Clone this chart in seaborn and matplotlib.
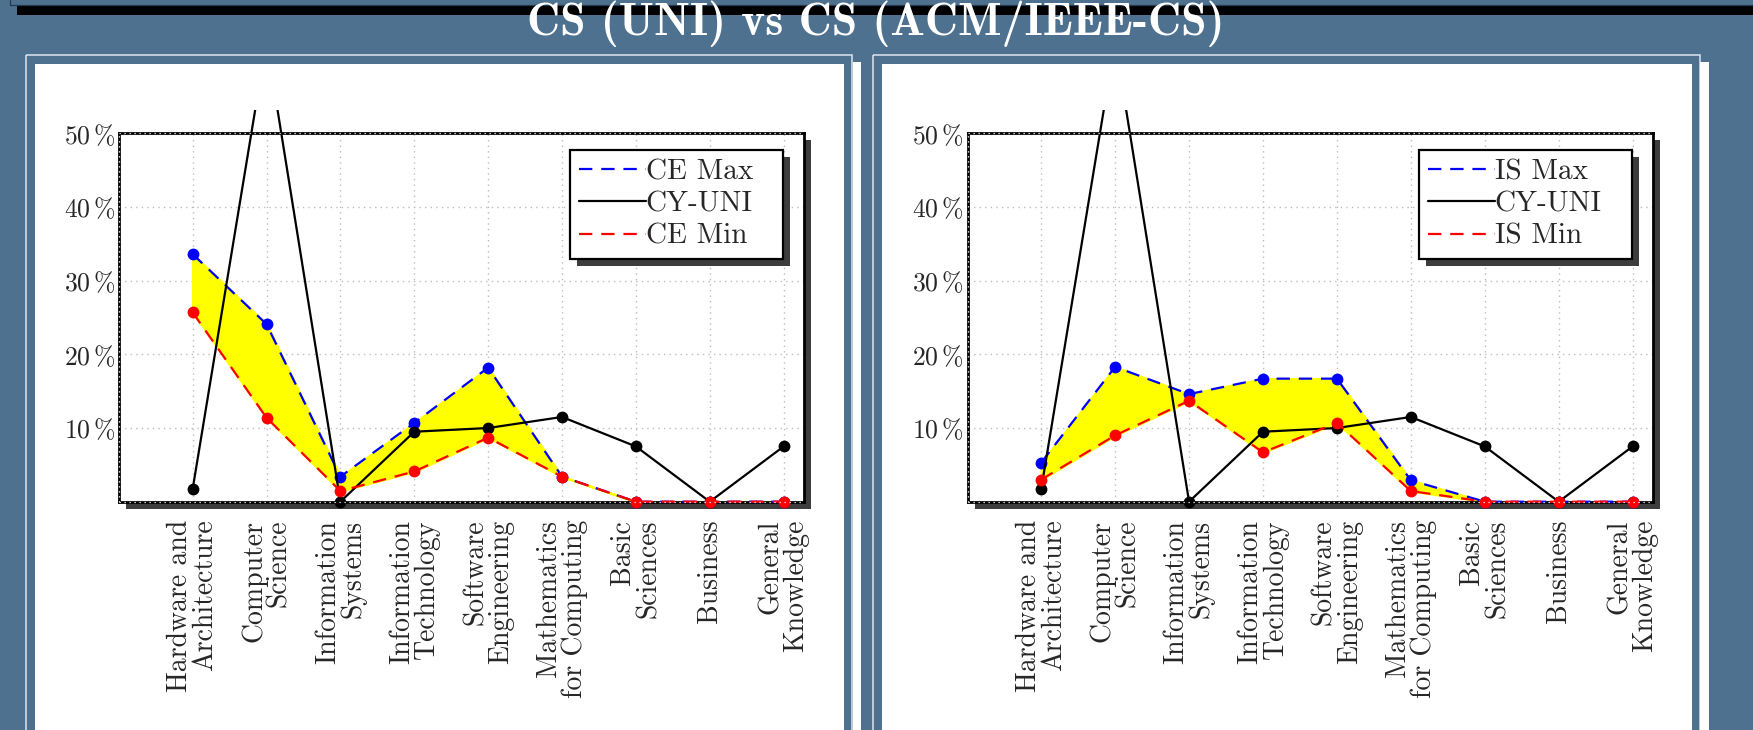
import numpy as np
import pandas as pd
import matplotlib
matplotlib.use("Agg")
import matplotlib.pyplot as plt
from matplotlib.patches import Rectangle
from matplotlib.transforms import ScaledTranslation
import seaborn as sns

# ---------------- data ----------------
categories = ["Hardware and\nArchitecture", "Computer\nScience", "Information\nSystems",
              "Information\nTechnology", "Software\nEngineering", "Mathematics\nfor Computing",
              "Basic\nSciences", "Business", "General\nKnowledge"]
cy_uni = [1.7, 62.5, 0.0, 9.5, 10.0, 11.5, 7.5, 0.0, 7.5]
ce_max = [33.6, 24.1, 3.4, 10.7, 18.2, 3.4, 0.0, 0.0, 0.0]
ce_min = [25.7, 11.4, 1.45, 4.1, 8.7, 3.4, 0.0, 0.0, 0.0]
is_max = [5.3, 18.3, 14.6, 16.7, 16.7, 2.9, 0.0, 0.0, 0.0]
is_min = [3.0, 9.0, 13.7, 6.7, 10.7, 1.45, 0.0, 0.0, 0.0]
ytick_values = [10, 20, 30, 40, 50]
ytick_labels = [r"$10\,\%$", r"$20\,\%$", r"$30\,\%$", r"$40\,\%$", r"$50\,\%$"]
title_text = "CS (UNI) vs CS (ACM/IEEE-CS)"
panels = [("CE", ce_max, ce_min), ("IS", is_max, is_min)]

# ---------------- style ----------------
sns.set_style("white")
plt.rcParams["font.family"] = ["cmr10", "DejaVu Serif"]
plt.rcParams["mathtext.fontset"] = "cm"
plt.rcParams["axes.unicode_minus"] = False
plt.rcParams["axes.formatter.use_mathtext"] = True

W, H = 1753, 730
BG = "#4e7190"
fig = plt.figure(figsize=(W / 100, H / 100), dpi=100, facecolor=BG)

# background / decoration layer in pixel coordinates
bg = fig.add_axes([0, 0, 1, 1], zorder=-10)
bg.set_xlim(0, W)
bg.set_ylim(H, 0)
bg.axis("off")
bg.patch.set_alpha(0)
bg.add_patch(Rectangle((17, 6), W - 17, 8.5, color="black", lw=0))
bg.plot([10, 10, W], [0, 5, 5], color="#243a50", lw=0.9)

panel_geo = [  # outer x0, outer x1, inner x0, inner x1, strip x0, strip x1
    (26, 852.5, 35, 844, 853, 861),
    (873.5, 1700, 882.5, 1692, 1700.5, 1709),
]
for ox0, ox1, ix0, ix1, sx0, sx1 in panel_geo:
    bg.add_patch(Rectangle((ox0, 55), ox1 - ox0, 700, fill=False, edgecolor="#dde5ee", lw=1.1))
    bg.add_patch(Rectangle((sx0, 62), sx1 - sx0, 700, color="white", lw=0))
    bg.add_patch(Rectangle((ix0, 64), ix1 - ix0, 700, color="white", lw=0))

fig.text(876, H - 35, title_text, transform=None, color="white", fontsize=33,
         family="cmb10", ha="center", va="baseline")

axes_px = [(119.5, 133.3, 803.6, 501.7), (968, 133.3, 1652.6, 501.7)]
x = np.arange(len(categories))

for (l, t, r, b), (name, vmax, vmin) in zip(axes_px, panels):
    # axes shadow
    bg.add_patch(Rectangle((l + 7, t + 7), r - l, b - t, color="#3d3d3d", lw=0))
    ax = fig.add_axes([l / W, 1 - b / H, (r - l) / W, (b - t) / H])
    ax.set_facecolor("white")
    clip = Rectangle((-0.1, -0.2), 1.2, 1.263, transform=ax.transAxes, visible=False)
    ax.add_patch(clip)

    df = pd.DataFrame({"x": x, "max": vmax, "min": vmin, "uni": cy_uni})
    ax.fill_between(df["x"], df["min"], df["max"], facecolor="#ffff00",
                    edgecolor="#ffff00", lw=1.6, zorder=2)

    specs = [("max", f"{name} Max", "#0000ff", True),
             ("uni", "CY-UNI", "black", False),
             ("min", f"{name} Min", "#ff0000", True)]
    for col, lab, colr, dashed in specs:
        n0 = len(ax.lines)
        sns.lineplot(data=df, x="x", y=col, ax=ax, color=colr, lw=1.6, marker="o",
                     markersize=8.5, markeredgewidth=0, label=lab, zorder=3, sort=False)
        ln = ax.lines[n0]
        if dashed:
            ln.set_dashes([6, 4])
        ln.set_clip_path(clip)

    ax.set_xlim(-0.99, 8.27)
    ax.set_ylim(0, 50)
    ax.set_xlabel("")
    ax.set_ylabel("")
    ax.set_xticks(x)
    ax.set_xticklabels(categories, rotation=90, ha="center", va="top",
                       multialignment="right", fontsize=20, linespacing=0.95)
    ax.set_yticks(ytick_values)
    ax.set_yticklabels(ytick_labels, fontsize=18.5)
    ax.tick_params(axis="x", length=0, pad=13)
    ax.tick_params(axis="y", length=0, pad=3)
    ax.grid(True, ls=(0, (1, 3)), color="#bdbdbd", lw=1.0)
    ax.set_axisbelow(True)
    for s in ax.spines.values():
        s.set_color("black")
        s.set_linewidth(2.0)
        s.set_visible(True)
    for xs, ys in [([0, 1], [1, 1]), ([0, 0], [0, 1]), ([0, 1], [0, 0])]:
        ax.plot(xs, ys, transform=ax.transAxes, color="white", ls=(0, (1, 3)),
                lw=0.9, clip_on=False, zorder=4)

    leg = ax.legend(loc="upper left", bbox_to_anchor=(0.6585, 0.9443, 0.3109, 0.01),
                    mode="expand", borderaxespad=0,
                    fontsize=21, frameon=True, fancybox=False, handlelength=2.3,
                    handletextpad=0.0, labelspacing=0.2, borderpad=0.3,
                    edgecolor="black", framealpha=1)
    leg.get_frame().set_linewidth(1.6)
    for h in leg.legend_handles:
        h.set_marker("")
    leg.set_zorder(6)

fig.canvas.draw()
for ax in fig.axes[1:]:
    leg = ax.get_legend()
    bb = leg.get_window_extent().transformed(ax.transAxes.inverted())
    sh = Rectangle((bb.x0, bb.y0), bb.width, bb.height, color="#3d3d3d", lw=0,
                   transform=ax.transAxes + ScaledTranslation(7 / 100, -7 / 100, fig.dpi_scale_trans),
                   zorder=5.5, clip_on=False)
    ax.add_patch(sh)

fig.savefig("out.png", dpi=100, facecolor=BG)
